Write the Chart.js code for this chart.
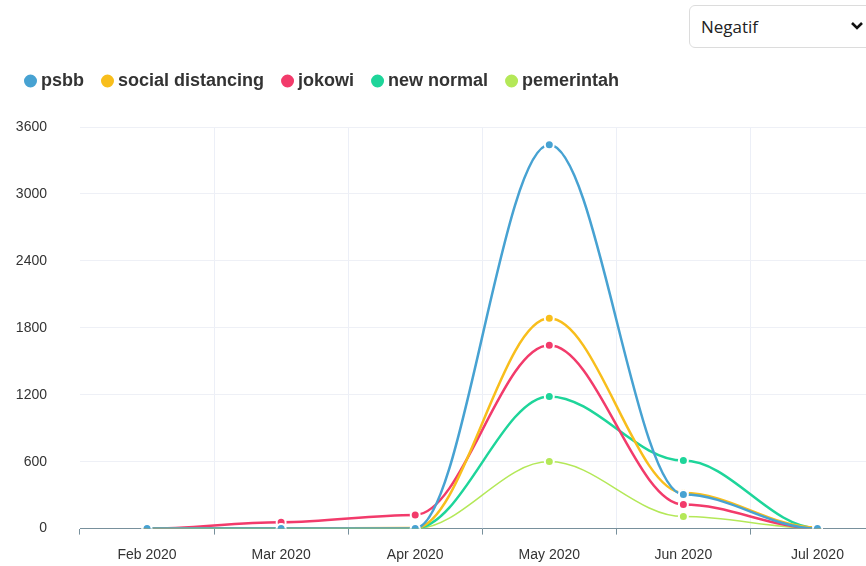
<!DOCTYPE html>
<html>
<head>
<meta charset="utf-8">
<script src="https://cdn.jsdelivr.net/npm/chart.js@4"></script>
<style>
  body { margin: 0; overflow: hidden; background: #fff; width: 866px; height: 566px; }
  #wrap { position: absolute; left: 0; top: 0; width: 891px; height: 570px; }
  #pilih {
    position: absolute; left: 689px; top: 5px; width: 190px; height: 43px;
    border: 1px solid #dcdcdc; border-radius: 6px; background: #fff;
    font-family: "Open Sans", Lato, sans-serif; font-size: 17px; color: #222;
    padding: 0 0 0 11px; -webkit-appearance: none; appearance: none; z-index: 2;
  }
  #panah { position: absolute; left: 850px; top: 21px; z-index: 3; }
</style>
</head>
<body>
<select id="pilih"><option>Negatif</option><option>Positif</option></select>
<svg id="panah" width="14" height="10" viewBox="0 0 14 10"><path d="M2 2 L7 7 L12 2" stroke="#111" stroke-width="2.6" fill="none"/></svg>
<div id="wrap"><canvas id="lineChart" width="891" height="570"></canvas></div>
<script>
document.addEventListener("DOMContentLoaded", function() {
    // bulan dan jumlah per kata kunci
    var bulan = ['Feb 2020', 'Mar 2020', 'Apr 2020', 'May 2020', 'Jun 2020', 'Jul 2020'];
    var psbb = [0, 0, 2, 3440, 305, 0];
    var socialDistancing = [0, 0, 5, 1885, 320, 8];
    var jokowi = [0, 57, 123, 1643, 215, 3];
    var newNormal = [0, 0, 3, 1185, 610, 5];
    var pemerintah = [0, 0, 0, 601, 108, 2];
    var yTicks = [0, 600, 1200, 1800, 2400, 3000, 3600];

    var huruf = '"Liberation Sans", Arial, sans-serif';

    function seri(label, data, warna, tebal) {
        return {
            label: label,
            data: data,
            borderColor: warna,
            backgroundColor: warna,
            borderWidth: tebal,
            pointRadius: 4.5,
            pointBorderWidth: 2,
            pointBorderColor: '#fff',
            pointBackgroundColor: warna,
            tension: 0.4,
            fill: false
        };
    }

    // kurva mulus dengan garis singgung datar di tiap titik
    var kurvaDatar = {
        id: 'kurvaDatar',
        beforeDatasetDraw: function(chart, args) {
            var meta = args.meta;
            meta.dataset.updateControlPoints(chart.chartArea, 'x');
            var pts = meta.data;
            for (var i = 0; i < pts.length; i++) {
                var p = pts[i];
                var dPrev = i > 0 ? p.x - pts[i - 1].x : 0;
                var dNext = i < pts.length - 1 ? pts[i + 1].x - p.x : 0;
                p.cp1x = p.x - dPrev * 0.35;
                p.cp1y = p.y;
                p.cp2x = p.x + dNext * 0.35;
                p.cp2y = p.y;
            }
        }
    };

    var ctx = document.getElementById('lineChart').getContext('2d');
    var myChart = new Chart(ctx, {
        type: 'line',
        plugins: [kurvaDatar],
        data: {
            labels: bulan,
            datasets: [
                seri('psbb', psbb, '#47a2d2', 2.5),
                seri('social distancing', socialDistancing, '#f8be1c', 2.5),
                seri('jokowi', jokowi, '#f23b6b', 2.5),
                seri('new normal', newNormal, '#1ed59a', 2.5),
                seri('pemerintah', pemerintah, '#b4e858', 1.5)
            ]
        },
        options: {
            responsive: false,
            animation: false,
            layout: { padding: { top: 50, left: 7, right: 0, bottom: 0 } },
            plugins: {
                legend: {
                    position: 'top',
                    align: 'start',
                    labels: {
                        usePointStyle: true,
                        pointStyle: 'circle',
                        boxWidth: 3,
                        boxHeight: 10.6,
                        padding: 22,
                        color: '#333',
                        font: { family: huruf, size: 18, weight: 'bold' }
                    }
                },
                subtitle: {
                    display: true,
                    text: '',
                    weight: 500,
                    padding: { top: 0, bottom: 15 },
                    font: { size: 10 }
                },
                tooltip: { enabled: false }
            },
            scales: {
                x: {
                    offset: true,
                    afterFit: function(scale) { scale.height = 34; },
                    grid: {
                        offset: true,
                        color: function(c) { return c.index === 0 ? 'rgba(0,0,0,0)' : '#eceff7'; },
                        tickColor: '#78909c',
                        tickLength: 6
                    },
                    border: { color: '#78909c', width: 1 },
                    ticks: { color: '#333', padding: 12, font: { family: huruf, size: 14 } }
                },
                y: {
                    min: 0,
                    max: 3600,
                    afterFit: function(scale) { scale.width = 73; },
                    afterBuildTicks: function(scale) { scale.ticks = yTicks.map(function(v) { return { value: v }; }); },
                    grid: { color: '#eef0f6', drawTicks: false },
                    border: { display: false },
                    ticks: {
                        color: '#333', padding: 33, font: { family: huruf, size: 14 },
                        callback: function(v) { return String(v); }
                    }
                }
            }
        }
    });
});
</script>
</body>
</html>
